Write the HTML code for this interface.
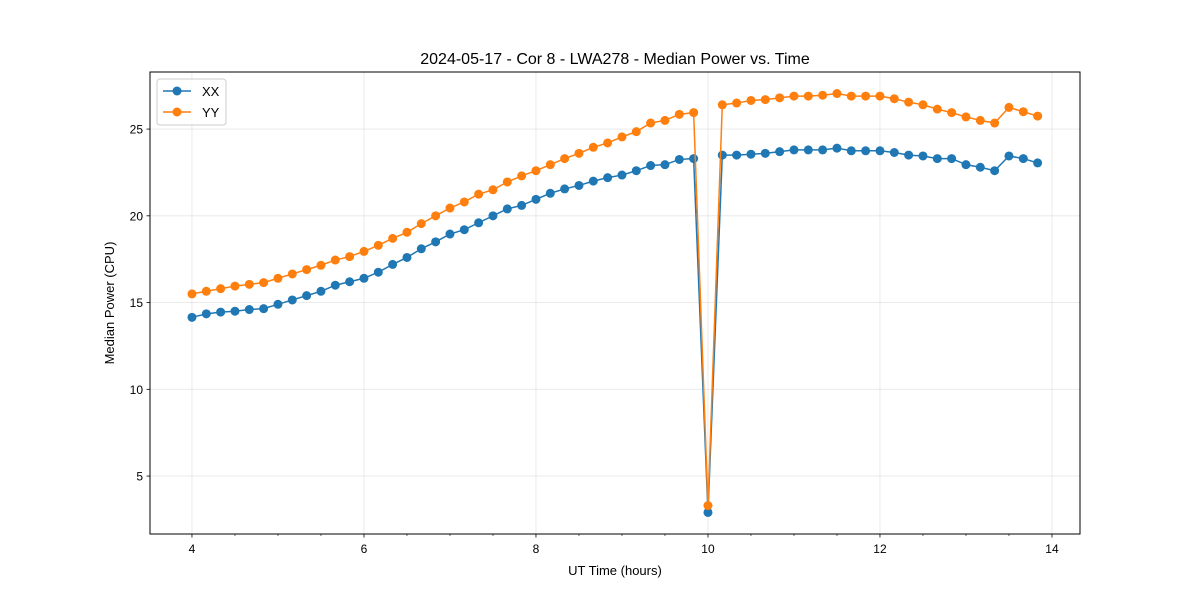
<!DOCTYPE html>
<html><head><meta charset="utf-8"><style>
body{margin:0;background:#fff;}
svg text{font-family:"Liberation Sans","DejaVu Sans",sans-serif;fill:#000;}
</style></head><body>
<svg width="1200" height="600" viewBox="0 0 1200 600">
<g id="grid"></g>
<g id="series"></g>
<rect x="150" y="72" width="930" height="462" fill="none" stroke="#000" stroke-width="1"/>
<g id="axes"></g>
<text x="615" y="64" font-size="16" text-anchor="middle">2024-05-17 - Cor 8 - LWA278 - Median Power vs. Time</text>
<text x="615" y="575" font-size="13" text-anchor="middle">UT Time (hours)</text>
<text x="114" y="303" font-size="13" text-anchor="middle" transform="rotate(-90 114 303)">Median Power (CPU)</text>
<g>
<rect x="157" y="79" width="69" height="46" rx="3" fill="#fff" stroke="#ccc" fill-opacity="0.8"/>
<g>
<line x1="163" y1="91" x2="191" y2="91" stroke="#1f77b4" stroke-width="1.5"/><circle cx="177" cy="91" r="4.5" fill="#1f77b4"/>
<text x="202" y="96" font-size="13">XX</text></g>
<g>
<line x1="163" y1="112" x2="191" y2="112" stroke="#ff7f0e" stroke-width="1.5"/><circle cx="177" cy="112" r="4.5" fill="#ff7f0e"/>
<text x="202" y="117" font-size="13">YY</text></g>
</g>
</svg>
<script>
const xx = [14.15,14.35,14.45,14.5,14.6,14.65,14.9,15.15,15.4,15.65,16.0,16.2,16.4,16.75,17.2,17.6,18.1,18.5,18.95,19.2,19.6,20.0,20.4,20.6,20.95,21.3,21.55,21.75,22.0,22.2,22.35,22.6,22.9,22.95,23.25,23.3,
2.9,
23.5,23.5,23.55,23.6,23.7,23.8,23.8,23.8,23.9,23.75,23.75,23.75,23.65,23.5,23.45,23.3,23.3,22.95,22.8,22.6,23.45,23.3,23.05];
const yy = [15.5,15.65,15.8,15.95,16.05,16.15,16.4,16.65,16.9,17.15,17.45,17.65,17.95,18.3,18.7,19.05,19.55,20.0,20.45,20.8,21.25,21.5,21.95,22.3,22.6,22.95,23.3,23.6,23.95,24.2,24.55,24.85,25.35,25.5,25.85,25.95,
3.3,
26.4,26.5,26.65,26.7,26.8,26.9,26.9,26.95,27.05,26.9,26.9,26.9,26.75,26.55,26.4,26.15,25.95,25.7,25.5,25.35,26.25,26.0,25.75];
const startHour = 4, stepHour = 1/6;
const xTicks = [4,6,8,10,12,14];
const yTicks = [5,10,15,20,25];
const NS="http://www.w3.org/2000/svg";
const X0=150,X1=1080,Y0=534,Y1=72;
const xMin=3.512,xMax=14.326,yMin=1.66,yMax=28.29;
const sx=v=>X0+(v-xMin)/(xMax-xMin)*(X1-X0);
const sy=v=>Y0-(v-yMin)/(yMax-yMin)*(Y0-Y1);
function mk(t,a,p){const e=document.createElementNS(NS,t);for(const k in a)e.setAttribute(k,a[k]);p.appendChild(e);return e;}
const grid=document.getElementById('grid'),axes=document.getElementById('axes'),ser=document.getElementById('series');
xTicks.forEach(t=>{const x=sx(t);
 const g=mk('line',{x1:x,x2:x,y1:Y1,y2:Y0,stroke:'#b0b0b0','stroke-opacity':0.3,'stroke-width':0.8},grid);
 
 
 const tk=mk('line',{x1:x,x2:x,y1:Y0,y2:Y0+3.5,stroke:'#000','stroke-width':0.8},axes);
 
 
 const lb=mk('text',{x:x,y:Y0+19,'font-size':12,'text-anchor':'middle'},axes);lb.textContent=t;
 
 
});
for(let m=3.5;m<=14.3;m+=0.5){if(Number.isInteger(m)&&m%2===0)continue;const x=sx(m);if(x<X0)continue;
 const tk=mk('line',{x1:x,x2:x,y1:Y0,y2:Y0+2,stroke:'#000','stroke-width':0.6},axes);
 
 }
yTicks.forEach(t=>{const y=sy(t);
 const g=mk('line',{x1:X0,x2:X1,y1:y,y2:y,stroke:'#b0b0b0','stroke-opacity':0.3,'stroke-width':0.8},grid);
 
 
 const tk=mk('line',{x1:X0-3.5,x2:X0,y1:y,y2:y,stroke:'#000','stroke-width':0.8},axes);
 
 
 const lb=mk('text',{x:X0-7,y:y+4.5,'font-size':12,'text-anchor':'end'},axes);lb.textContent=t;
 
 
});
function draw(arr,col,name){
 const pts=arr.map((v,i)=>[sx(startHour+i*stepHour),sy(v)]);
 const pl=mk('polyline',{points:pts.map(p=>p.join(',')).join(' '),fill:'none',stroke:col,'stroke-width':1.5},ser);
 
 
 pts.forEach(p=>{const c=mk('circle',{cx:p[0],cy:p[1],r:4.5,fill:col},ser);
  
  });
}
draw(xx,'#1f77b4','xx');
draw(yy,'#ff7f0e','yy');
</script>
</body></html>
